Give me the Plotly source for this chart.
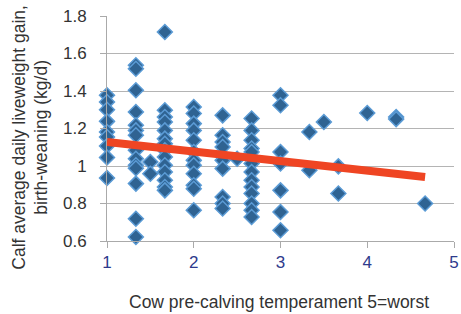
import plotly.graph_objects as go

# temperament score (x) and calf ADG (y)
temperament = (
    [1.0] * 9
    + [1.333] * 14
    + [1.5] * 2
    + [1.667] * 14
    + [2.0] * 12
    + [2.333] * 9
    + [2.5] * 1
    + [2.667] * 13
    + [3.0] * 7
    + [3.333] * 2
    + [3.5] * 1
    + [3.667] * 2
    + [4.0] * 1
    + [4.333] * 2
    + [4.667] * 1
)
adg = (
    [1.377, 1.341, 1.30, 1.238, 1.181, 1.155, 1.107, 1.045, 0.936]
    + [1.537, 1.519, 1.404, 1.288, 1.217, 1.19, 1.164, 1.084, 1.039, 1.004, 0.988, 0.906, 0.719, 0.621]
    + [1.021, 0.959]
    + [1.715, 1.297, 1.261, 1.235, 1.19, 1.146, 1.119, 1.084, 1.048, 1.004, 0.968, 0.924, 0.888, 0.87]
    + [1.315, 1.28, 1.226, 1.19, 1.137, 1.075, 1.03, 1.004, 0.959, 0.897, 0.879, 0.764]
    + [1.27, 1.164, 1.128, 1.101, 1.03, 0.986, 0.835, 0.80, 0.773]
    + [1.039]
    + [1.253, 1.19, 1.137, 1.093, 1.075, 1.013, 0.968, 0.924, 0.888, 0.853, 0.80, 0.764, 0.728]
    + [1.377, 1.324, 1.075, 1.013, 0.87, 0.755, 0.657]
    + [1.181, 0.977]
    + [1.235]
    + [0.998, 0.853]
    + [1.283]
    + [1.261, 1.25]
    + [0.80]
)

# linear trend line endpoints
trend_x = [1.0, 4.667]
trend_y = [1.128, 0.941]

x_ticks = [1, 2, 3, 4, 5]
y_ticks = [0.6, 0.8, 1.0, 1.2, 1.4, 1.6, 1.8]
y_tick_text = ["0.6", "0.8", "1", "1.2", "1.4", "1.6", "1.8"]

x_title = "Cow pre-calving temperament 5=worst"
y_title = "Calf average daily liveweight gain,<br>birth-weaning (kg/d)"

FONT = "Liberation Sans, Arial, sans-serif"

fig = go.Figure()
fig.add_trace(go.Scatter(
    x=temperament, y=adg, mode="markers",
    marker=dict(symbol="diamond", size=11.5, color="#2f6392",
                line=dict(color="#5b9bd5", width=1.5)),
    cliponaxis=False, showlegend=False,
))
fig.add_trace(go.Scatter(
    x=trend_x, y=trend_y, mode="lines",
    line=dict(color="#ef4523", width=8),
    cliponaxis=False, showlegend=False,
))

fig.update_layout(
    width=461, height=314,
    margin=dict(l=107, r=7, t=16, b=73, autoexpand=False),
    paper_bgcolor="white", plot_bgcolor="white",
    font=dict(family=FONT, size=17, color="#333333"),
    xaxis=dict(
        range=[1, 5], tickvals=x_ticks, showgrid=False, zeroline=False,
        showline=True, linecolor="#aaaaaa", linewidth=1,
        ticks="outside", ticklen=6, tickcolor="#aaaaaa",
        tickfont=dict(size=17, color="#2e3a8c"),
        automargin=False,
    ),
    yaxis=dict(
        range=[0.6, 1.8], tickvals=y_ticks, ticktext=y_tick_text,
        showgrid=True, gridcolor="#b4b4b4", gridwidth=1, zeroline=False,
        showline=True, linecolor="#aaaaaa", linewidth=1,
        ticks="outside", ticklen=6, tickcolor="#aaaaaa",
        ticklabelstandoff=10,
        tickfont=dict(size=17, color="#333333"),
        automargin=False,
    ),
    annotations=[
        dict(text=x_title, xref="paper", yref="paper", x=0.495, y=-0.27,
             xanchor="center", yanchor="middle", showarrow=False,
             font=dict(size=17.5, color="#333333")),
        dict(text=y_title, xref="paper", yref="paper", x=-0.223, y=0.462,
             xanchor="center", yanchor="middle", showarrow=False, textangle=-90,
             font=dict(size=17.5, color="#333333")),
    ],
)

fig.write_html("out.html", config={"displayModeBar": False},
               post_script="document.body.style.margin='0';document.body.style.overflow='hidden';")
